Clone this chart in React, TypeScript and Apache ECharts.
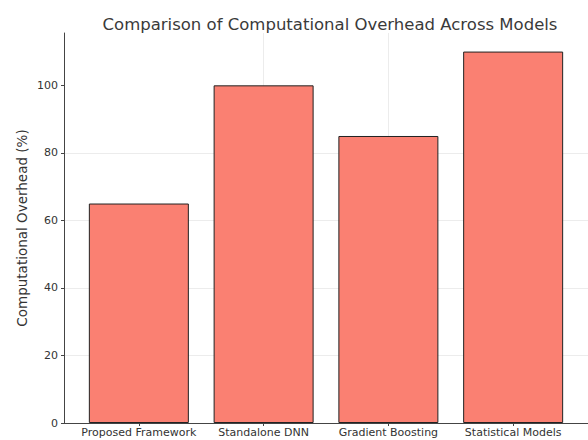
import React, { useEffect, useRef } from "react";
import * as echarts from "echarts";

const categories = ["Proposed Framework", "Standalone DNN", "Gradient Boosting", "Statistical Models"];
const overheadValues = [65, 100, 85, 110];
const yTickValues = [0, 20, 40, 60, 80, 100];
const titleText = "Comparison of Computational Overhead Across Models";
const yAxisName = "Computational Overhead (%)";

export default function App() {
  const ref = useRef<HTMLDivElement>(null);
  useEffect(() => {
    if (!ref.current) return;
    const chart = echarts.init(ref.current, null, { renderer: "svg" });
    const xPositions = categories.map((_, i) => i);
    const font = "DejaVu Sans";
    chart.setOption({
      animation: false,
      backgroundColor: "#ffffff",
      title: {
        text: titleText,
        left: 325,
        textAlign: "center",
        top: 11,
        textStyle: { fontFamily: font, fontSize: 16.5, fontWeight: "normal", color: "#3a3a3a" },
      },
      grid: { left: 64, top: 33, width: 528, bottom: 17, containLabel: false },
      xAxis: {
        type: "value",
        min: -0.6,
        max: 3.6,
        axisLine: { show: true, onZero: false, lineStyle: { color: "#444", width: 1 } },
        axisTick: { show: true, length: 3, customValues: xPositions, lineStyle: { color: "#444" } },
        axisLabel: {
          customValues: xPositions,
          margin: 4,
          fontFamily: font,
          fontSize: 11,
          color: "#333",
          formatter: (v: number) => {
            const i = Math.round(v);
            return Math.abs(v - i) < 1e-6 && categories[i] ? categories[i] : "";
          },
        },
        splitLine: { show: true, showMinLine: false, showMaxLine: false, lineStyle: { color: "#ececec", width: 1 } },
      },
      yAxis: {
        type: "value",
        min: 0,
        max: 115.5,
        interval: 20,
        name: yAxisName,
        nameLocation: "middle",
        nameGap: 35,
        nameMoveOverlap: false,
        nameTextStyle: { fontFamily: font, fontSize: 13.5, color: "#333" },
        axisLine: { show: true, onZero: false, lineStyle: { color: "#444", width: 1 } },
        axisTick: { show: true, length: 3, customValues: yTickValues, lineStyle: { color: "#444" } },
        axisLabel: { customValues: yTickValues, margin: 6, fontFamily: font, fontSize: 11, color: "#333" },
        splitLine: { show: true, showMinLine: false, showMaxLine: false, lineStyle: { color: "#ececec", width: 1 } },
      },
      series: [
        {
          type: "bar",
          data: overheadValues.map((v, i) => [xPositions[i], v]),
          barWidth: 100,
          itemStyle: { color: "#FA8072", borderColor: "#222", borderWidth: 1 },
        },
      ],
    });
    return () => chart.dispose();
  }, []);
  return <div ref={ref} style={{ width: 588, height: 440, position: "absolute", left: 0, top: 0 }} />;
}
